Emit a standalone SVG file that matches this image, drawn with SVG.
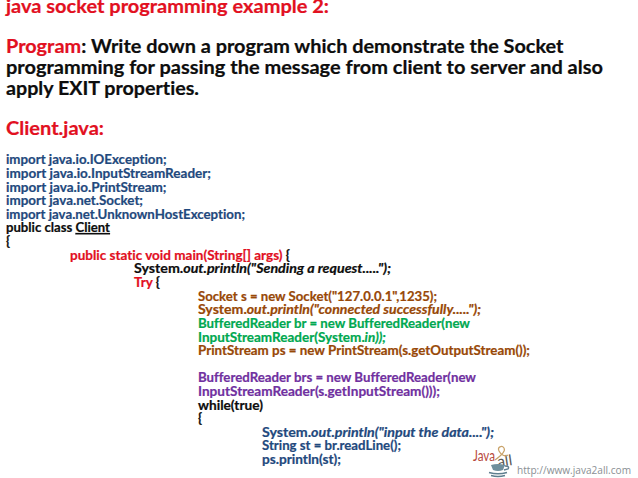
<svg xmlns="http://www.w3.org/2000/svg" width="638" height="478" viewBox="0 0 638 478">
<style>
text{font-family:"Lato","Liberation Sans",sans-serif;font-weight:700;white-space:pre;font-variant-ligatures:none;stroke-width:.22px}
.h{font-size:19.5px}
.c{font-size:13.3px}
.r{fill:#e2101f;stroke:#e2101f}.k{fill:#0d0d0d;stroke:#0d0d0d}.b{fill:#1f497d;stroke:#1f497d}.o{fill:#984807;stroke:#984807}.g{fill:#00a850;stroke:#00a850}.p{fill:#7030a0;stroke:#7030a0}
.i{font-style:italic}
</style>
<rect width="638" height="478" fill="#fff"/>
<g id="heading">
<text class="h r" x="6" y="12.5" textLength="323" lengthAdjust="spacingAndGlyphs">java socket programming example 2:</text>
<text class="h k" x="6" y="53" textLength="557.5" lengthAdjust="spacingAndGlyphs"><tspan class="r">Program</tspan>: Write down a program which demonstrate the Socket</text>
<text class="h k" x="6" y="74" textLength="597" lengthAdjust="spacingAndGlyphs">programming for passing the message from client to server and also</text>
<text class="h k" x="6" y="94.5" textLength="193" lengthAdjust="spacingAndGlyphs">apply EXIT properties.</text>
<text class="h r" x="6" y="135" textLength="98" lengthAdjust="spacingAndGlyphs">Client.java:</text>
</g>
<g id="code">
<text class="c b" x="6" y="164" textLength="160.5" lengthAdjust="spacingAndGlyphs">import java.io.IOException;</text>
<text class="c b" x="6" y="178" textLength="205" lengthAdjust="spacingAndGlyphs">import java.io.InputStreamReader;</text>
<text class="c b" x="6" y="191.5" textLength="160.5" lengthAdjust="spacingAndGlyphs">import java.io.PrintStream;</text>
<text class="c b" x="6" y="205" textLength="137" lengthAdjust="spacingAndGlyphs">import java.net.Socket;</text>
<text class="c b" x="6" y="219" textLength="239" lengthAdjust="spacingAndGlyphs">import java.net.UnknownHostException;</text>
<text class="c k" x="6" y="232" textLength="104" lengthAdjust="spacingAndGlyphs">public class <tspan text-decoration="underline">Client</tspan></text>
<text class="c k" x="6" y="246">{</text>
<text class="c k" x="70" y="259.5" textLength="220" lengthAdjust="spacingAndGlyphs"><tspan class="r">public static void main(String[] args) </tspan>{</text>
<text class="c k" x="134" y="273" textLength="257" lengthAdjust="spacingAndGlyphs">System.<tspan class="i">out.println("Sending a request.....");</tspan></text>
<text class="c k" x="134" y="287" textLength="26" lengthAdjust="spacingAndGlyphs"><tspan class="r">Try </tspan>{</text>
<text class="c o" x="198" y="300.5" textLength="239" lengthAdjust="spacingAndGlyphs">Socket s = new Socket("127.0.0.1",1235);</text>
<text class="c o" x="198" y="314" textLength="283" lengthAdjust="spacingAndGlyphs">System.<tspan class="i">out.println("connected successfully.....");</tspan></text>
<text class="c g" x="198" y="328" textLength="272" lengthAdjust="spacingAndGlyphs">BufferedReader br = new BufferedReader(new</text>
<text class="c g" x="198" y="341.5" textLength="188" lengthAdjust="spacingAndGlyphs">InputStreamReader(System.<tspan class="i">in));</tspan></text>
<text class="c o" x="198" y="355" textLength="332" lengthAdjust="spacingAndGlyphs">PrintStream ps = new PrintStream(s.getOutputStream());</text>
<text class="c p" x="198" y="382" textLength="278" lengthAdjust="spacingAndGlyphs">BufferedReader brs = new BufferedReader(new</text>
<text class="c p" x="198" y="396" textLength="242" lengthAdjust="spacingAndGlyphs">InputStreamReader(s.getInputStream()));</text>
<text class="c k" x="198" y="409.5" textLength="65" lengthAdjust="spacingAndGlyphs">while(true)</text>
<text class="c k" x="198" y="423">{</text>
<text class="c b" x="262" y="436.5" textLength="232" lengthAdjust="spacingAndGlyphs">System.<tspan class="i">out.println("input the data....");</tspan></text>
<text class="c b" x="262" y="450" textLength="139" lengthAdjust="spacingAndGlyphs">String st = br.readLine();</text>
<text class="c b" x="262" y="463.5" textLength="79" lengthAdjust="spacingAndGlyphs">ps.println(st);</text>
</g>
<g id="logo">
<text x="473" y="461" font-size="15px" fill="#b84a40" textLength="22" lengthAdjust="spacingAndGlyphs" style="font-weight:400;stroke:none">Java</text>
<text x="498" y="467" font-size="15px" fill="#5a5a55" textLength="15" lengthAdjust="spacingAndGlyphs" transform="rotate(-8 498 467)" style="font-weight:400;stroke:none">all</text>
<path d="M495 460 C502 455 506 451 504 448 C502 445 497 447 499 451 C501 455 505 457 508 455" fill="none" stroke="#c9a36a" stroke-width="1.2"/>
<path d="M491 465 Q498 463 505 465 L503 470 Q498 472 493 470Z" fill="#6f8f9c"/>
<path d="M505 466 Q510 466 508 469 L504 470 M489 472.500 Q498 475 507 472.500 M491 475.500 Q498 477.500 505 475.500" fill="none" stroke="#5f7f8f" stroke-width="1.4"/>
<text x="517" y="473.500" font-size="11.2px" fill="#8a8f94" textLength="114" lengthAdjust="spacingAndGlyphs" style="font-family:'Open Sans',sans-serif;font-weight:400;stroke:none">http://www.java2all.com</text>
</g>
</svg>
